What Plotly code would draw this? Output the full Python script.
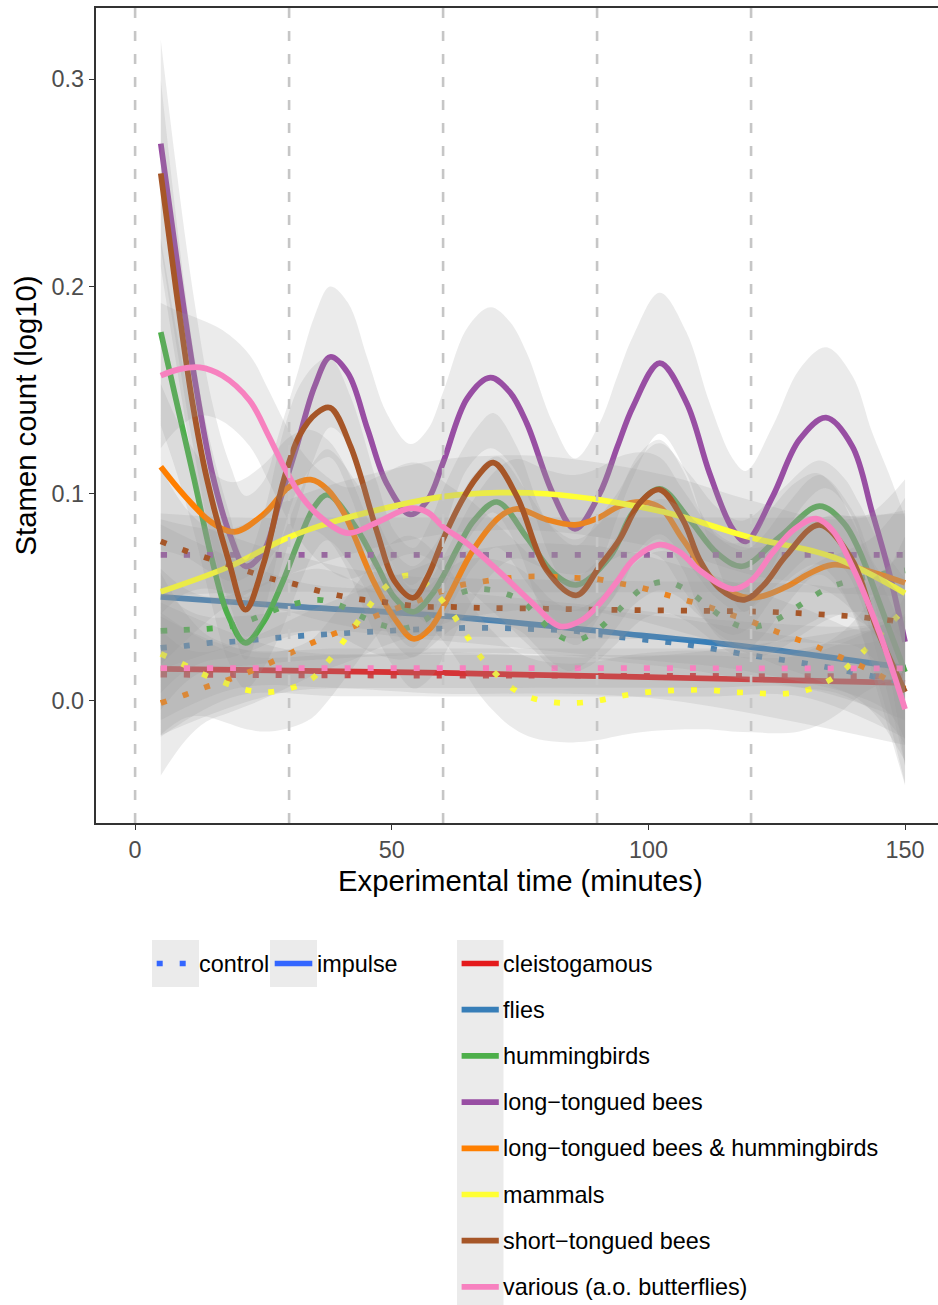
import plotly.graph_objects as go

# ---------------- data ----------------
groups = ["cleistogamous", "flies", "hummingbirds", "long\u2212tongued bees",
          "long\u2212tongued bees & hummingbirds", "mammals",
          "short\u2212tongued bees", "various (a.o. butterflies)"]
group_colors = ["#E41A1C", "#377EB8", "#4DAF4A", "#984EA3",
                "#FF7F00", "#FFFF33", "#A65628", "#F781BF"]
treatments = ["control", "impulse"]

# impulse (solid) smooths
cleisto_imp_x = [5, 30, 60, 100, 150]
cleisto_imp_y = [0.0155, 0.0146, 0.0135, 0.0115, 0.0087]

flies_imp_x = [5, 32, 57.5, 94, 120, 146, 150]
flies_imp_y = [0.0502, 0.0454, 0.0415, 0.0328, 0.026, 0.0174, 0.016]

humm_imp_x = [5, 8, 11.5, 15, 18, 21.5, 25, 28.5, 32, 35, 37.5, 43.3, 47.2, 50.5, 54.2, 58,
              63.3, 66, 70.5, 76.3, 81.4, 86, 92.5, 97, 102.2, 108, 113.3, 118.3, 125.5,
              133.3, 138, 141, 145.5, 150]
humm_imp_y = [0.178, 0.145, 0.107, 0.068, 0.042, 0.028, 0.038, 0.056, 0.078, 0.094, 0.0995,
              0.0826, 0.065, 0.050, 0.043, 0.052, 0.076, 0.087, 0.096, 0.079, 0.062, 0.056,
              0.0696, 0.091, 0.1024, 0.0875, 0.0715, 0.065, 0.079, 0.094, 0.086, 0.073,
              0.044, 0.014]

ltb_imp_x = [5, 8, 11.5, 15, 18.5, 21.5, 25, 28, 31.5, 35, 38, 41.5, 45.3, 49, 53.6, 57, 60,
             64.7, 69.2, 73, 76.3, 81.4, 85.7, 90.5, 94, 97, 102.2, 107.4, 111.9, 116.4,
             119, 124.2, 129.4, 134.6, 139.7, 143.6, 146.9, 150]
ltb_imp_y = [0.269, 0.215, 0.157, 0.110, 0.080, 0.065, 0.072, 0.095, 0.123, 0.152, 0.166,
             0.158, 0.131, 0.105, 0.090, 0.097, 0.115, 0.146, 0.156, 0.149, 0.134, 0.100,
             0.083, 0.100, 0.123, 0.142, 0.163, 0.144, 0.110, 0.083, 0.077, 0.0986, 0.126,
             0.1367, 0.123, 0.091, 0.062, 0.0285]

ltbh_imp_x = [5, 10, 15, 19.4, 25, 30.1, 34.2, 37.5, 40.6, 46.4, 50.5, 54.2, 57.5, 60.8,
              65.9, 71.1, 74.4, 80.2, 85.7, 90, 94.4, 99, 102.5, 106.7, 113.3, 119.7,
              126.8, 131, 135.8, 142.4, 150]
ltbh_imp_y = [0.113, 0.098, 0.086, 0.0816, 0.090, 0.1034, 0.1068, 0.102, 0.091, 0.058,
              0.040, 0.030, 0.035, 0.049, 0.073, 0.089, 0.0927, 0.0875, 0.085, 0.088,
              0.094, 0.096, 0.093, 0.078, 0.057, 0.0497, 0.055, 0.061, 0.0657, 0.063, 0.057]

mamm_imp_x = [5, 18.5, 29, 35.4, 45.3, 60, 71, 80, 90.5, 105, 119.7, 135.8, 150]
mamm_imp_y = [0.0527, 0.065, 0.078, 0.084, 0.091, 0.0986, 0.1005, 0.100, 0.097, 0.090,
              0.079, 0.0696, 0.052]

stb_imp_x = [5, 8, 11.1, 14, 18.3, 21.5, 25, 29, 32, 35.4, 38, 42, 47.2, 50.5, 54.2, 57,
             60, 63.3, 66.6, 69.8, 74.4, 80.2, 86, 90.5, 94.4, 98.3, 102.2, 106.7, 110, 114,
             118.7, 122.5, 126.8, 133.3, 139.7, 144.3, 150]
stb_imp_y = [0.2546, 0.198, 0.145, 0.107, 0.067, 0.044, 0.066, 0.107, 0.128, 0.139, 0.1415,
             0.1227, 0.081, 0.058, 0.0498, 0.060, 0.078, 0.095, 0.108, 0.115, 0.0986, 0.063,
             0.051, 0.065, 0.078, 0.0955, 0.102, 0.0875, 0.068, 0.054, 0.0488, 0.056, 0.070,
             0.085, 0.068, 0.036, 0.0043]

var_imp_x = [5, 8.5, 12.6, 17, 22.3, 26, 29, 32.3, 36, 41.4, 47, 53.6, 57, 60, 64.7, 71.1,
             77.5, 82.8, 87, 90.5, 94, 97, 102.2, 106, 110, 116.4, 120, 124.2, 128.5, 132.7,
             136, 139.7, 145, 150]
var_imp_y = [0.157, 0.160, 0.161, 0.157, 0.145, 0.128, 0.113, 0.099, 0.089, 0.081, 0.086,
             0.093, 0.091, 0.084, 0.076, 0.062, 0.047, 0.036, 0.039, 0.047, 0.058, 0.068,
             0.0754, 0.072, 0.063, 0.054, 0.058, 0.0715, 0.083, 0.088, 0.082, 0.065, 0.033,
             -0.0039]

# control (dotted) smooths
cleisto_ctl_x = [5, 20, 40, 75, 110, 130, 150]
cleisto_ctl_y = [0.0127, 0.0125, 0.0123, 0.0122, 0.0121, 0.0120, 0.0120]

flies_ctl_x = [5, 9.8, 14.5, 18.5, 27, 32.3, 45.3, 58, 67.2, 76.3, 85.3, 93.8, 106.7, 120,
               128.8, 137.6, 146.3, 150]
flies_ctl_y = [0.0256, 0.0266, 0.028, 0.0285, 0.0304, 0.0314, 0.0333, 0.0348, 0.0353,
               0.0348, 0.0338, 0.031, 0.0275, 0.022, 0.0188, 0.015, 0.0106, 0.009]

humm_ctl_x = [5, 9.5, 14, 18.5, 23, 27.3, 31.3, 35.8, 40, 43.9, 48, 52.3, 56.4, 59.8, 63.3,
              68, 75, 78.3, 81.4, 85.3, 89.2, 92.9, 96, 99.3, 103.5, 107.4, 111, 114.4,
              118.5, 122.8, 126.9, 130.6, 134.3, 138.5, 143, 147, 150]
humm_ctl_y = [0.0338, 0.0343, 0.0348, 0.036, 0.0396, 0.044, 0.047, 0.0488, 0.046, 0.041,
              0.0367, 0.035, 0.039, 0.046, 0.052, 0.054, 0.0488, 0.041, 0.0333, 0.029,
              0.0328, 0.0405, 0.0483, 0.055, 0.0575, 0.0536, 0.047, 0.0405, 0.0357, 0.037,
              0.042, 0.048, 0.0536, 0.0575, 0.060, 0.062, 0.063]

ltb_ctl_x = [5, 20, 40, 75, 110, 130, 150]
ltb_ctl_y = [0.0705, 0.0705, 0.0705, 0.0705, 0.0705, 0.0705, 0.0705]

ltbh_ctl_x = [5, 9.8, 13.9, 17.9, 22.2, 26.3, 30.2, 34, 38.3, 42.3, 46.4, 50.6, 54.7, 58.7,
              63, 67.4, 71.7, 76.2, 80.6, 85.1, 89.4, 93.8, 98.1, 102.4, 106.7, 111, 115,
              119.3, 123.4, 127.5, 131.5, 135.6, 139.7, 143.8, 147.5, 150]
ltbh_ctl_y = [-0.001, 0.003, 0.0068, 0.010, 0.014, 0.0184, 0.023, 0.0275, 0.032, 0.0357,
              0.0405, 0.0444, 0.048, 0.052, 0.0556, 0.0575, 0.059, 0.060, 0.060, 0.0594,
              0.059, 0.057, 0.055, 0.052, 0.049, 0.046, 0.0425, 0.039, 0.035, 0.031,
              0.0275, 0.023, 0.0188, 0.014, 0.009, 0.006]

mamm_ctl_x = [5, 9.6, 13.5, 17.5, 21.7, 26.2, 30.5, 34.4, 37.5, 40.2, 42.8, 45.5, 48.2,
              51.9, 54, 56, 59.3, 62, 64.3, 66.8, 69.7, 72.9, 76.6, 81, 85.3, 89.8, 93.8,
              98.5, 102.8, 107.2, 111.7, 116.2, 120.5, 124.9, 129.4, 133.5, 137.4, 140.7,
              143.8, 146.9, 150]
mamm_ctl_y = [0.0227, 0.0174, 0.0126, 0.0087, 0.0053, 0.0043, 0.0063, 0.0106, 0.0188,
              0.0275, 0.0362, 0.0454, 0.0536, 0.060, 0.0605, 0.058, 0.050, 0.0415, 0.0328,
              0.023, 0.0145, 0.0072, 0.002, -0.0005, -0.001, 0.0, 0.002, 0.0039, 0.0048,
              0.0053, 0.0053, 0.0043, 0.0039, 0.0034, 0.0043, 0.0077, 0.0135, 0.021,
              0.0285, 0.0367, 0.0444]

stb_ctl_x = [5, 9.8, 14, 18.3, 22.3, 26.6, 30.9, 35, 39.4, 43.9, 48.2, 52.5, 56.9, 61.4,
             65.9, 80, 92, 110, 123.2, 132, 140.7, 150]
stb_ctl_y = [0.077, 0.0725, 0.069, 0.0657, 0.0623, 0.059, 0.0565, 0.0536, 0.051, 0.049,
             0.0478, 0.0464, 0.0454, 0.0454, 0.045, 0.0445, 0.044, 0.0435, 0.043, 0.042,
             0.0406, 0.038]

var_ctl_x = [5, 20, 40, 75, 110, 130, 150]
var_ctl_y = [0.0158, 0.0158, 0.0158, 0.0158, 0.0158, 0.0157, 0.0157]

# standard-error half widths of the smooths (start / middle / end of the time range)
imp_se_start = [0.032, 0.035, 0.045, 0.050, 0.040, 0.035, 0.045, 0.035]
imp_se_mid = [0.010, 0.012, 0.022, 0.034, 0.024, 0.018, 0.024, 0.022]
imp_se_end = [0.030, 0.035, 0.045, 0.060, 0.050, 0.040, 0.045, 0.036]
ctl_se_start = [0.030, 0.030, 0.030, 0.020, 0.035, 0.039, 0.035, 0.025]
ctl_se_mid = [0.010, 0.012, 0.015, 0.018, 0.016, 0.019, 0.014, 0.0095]
ctl_se_end = [0.030, 0.030, 0.035, 0.020, 0.035, 0.035, 0.035, 0.025]

vline_x = [0, 30, 60, 90, 120]
x_ticks = [0, 50, 100, 150]
y_ticks = [0.0, 0.1, 0.2, 0.3]
y_tick_text = ["0.0", "0.1", "0.2", "0.3"]

ctl_series = [(cleisto_ctl_x, cleisto_ctl_y), (flies_ctl_x, flies_ctl_y),
              (humm_ctl_x, humm_ctl_y), (ltb_ctl_x, ltb_ctl_y), (ltbh_ctl_x, ltbh_ctl_y),
              (mamm_ctl_x, mamm_ctl_y), (stb_ctl_x, stb_ctl_y), (var_ctl_x, var_ctl_y)]
imp_series = [(cleisto_imp_x, cleisto_imp_y), (flies_imp_x, flies_imp_y),
              (humm_imp_x, humm_imp_y), (ltb_imp_x, ltb_imp_y), (ltbh_imp_x, ltbh_imp_y),
              (mamm_imp_x, mamm_imp_y), (stb_imp_x, stb_imp_y), (var_imp_x, var_imp_y)]

# ---------------- style ----------------
FONT = "Liberation Sans, Arial, sans-serif"
LW = 5.7
DOT = "6px,17px"
RIBBON = "rgba(153,153,153,0.2)"
W, H = 938, 1305
ML, MT, MB = 96, 8, 482
PW, PH = W - ML, H - MT - MB


def se_at(x, s0, sm, s1):
    a = max(0.0, 1 - (x - 5) / 11.0) ** 2
    b = max(0.0, 1 - (150 - x) / 11.0) ** 2
    return sm + (s0 - sm) * a + (s1 - sm) * b


fig = go.Figure()
for i, g in enumerate(groups):
    for t in treatments:
        if t == "control":
            xs, ys = ctl_series[i]
            s0, sm, s1 = ctl_se_start[i], ctl_se_mid[i], ctl_se_end[i]
            dash = DOT
        else:
            xs, ys = imp_series[i]
            s0, sm, s1 = imp_se_start[i], imp_se_mid[i], imp_se_end[i]
            dash = "solid"
        se = [se_at(x, s0, sm, s1) for x in xs]
        lo = [y - s for y, s in zip(ys, se)]
        hi = [y + s for y, s in zip(ys, se)]
        fig.add_trace(go.Scatter(x=xs, y=lo, mode="lines", showlegend=False,
                                 hoverinfo="skip", line=dict(width=0, shape="spline")))
        fig.add_trace(go.Scatter(x=xs, y=hi, mode="lines", showlegend=False,
                                 hoverinfo="skip", fill="tonexty", fillcolor=RIBBON,
                                 line=dict(width=0, shape="spline")))
        fig.add_trace(go.Scatter(x=xs, y=ys, mode="lines", name=f"{g} ({t})",
                                 showlegend=False,
                                 line=dict(color=group_colors[i], width=LW,
                                           shape="spline", dash=dash)))

for xv in vline_x:
    fig.add_shape(type="line", xref="x", yref="paper", x0=xv, x1=xv, y0=0, y1=1,
                  line=dict(color="#C6C6C6", width=2.6, dash="10px,13px"), layer="above")


# ---------------- manual legend (ggplot style) ----------------
def px_x(p):
    return (p - ML) / PW


def px_y(p):
    return (MT + PH - p) / PH


def key_box(x0, y0, x1, y1):
    fig.add_shape(type="rect", xref="paper", yref="paper", x0=px_x(x0), x1=px_x(x1),
                  y0=px_y(y1), y1=px_y(y0), fillcolor="#EBEBEB", line=dict(width=0),
                  layer="above")


def key_line(x0, x1, yc, color, dash):
    fig.add_shape(type="line", xref="paper", yref="paper", x0=px_x(x0), x1=px_x(x1),
                  y0=px_y(yc), y1=px_y(yc), line=dict(color=color, width=LW, dash=dash),
                  layer="above")


def key_text(x, yc, txt):
    fig.add_annotation(xref="paper", yref="paper", x=px_x(x), y=px_y(yc), text=txt,
                       showarrow=False, xanchor="left", yanchor="middle",
                       font=dict(family=FONT, size=23.4, color="black"))


# linetype legend
lt_key_left = [152, 270]
for k, t in enumerate(treatments):
    xl = lt_key_left[k]
    key_box(xl, 940, xl + 47, 987)
    key_line(xl + 4.7, xl + 42.3, 963.5, "#3366FF", DOT if t == "control" else "solid")
    key_text(xl + 45, 964, t)

# colour legend
key_box(457, 940, 503.5, 1310)
for i, g in enumerate(groups):
    yc = 963.5 + 46.2 * i
    key_line(461.6, 498.8, yc, group_colors[i], "solid")
    key_text(501, yc, g)

# axis titles
fig.add_annotation(xref="paper", yref="paper", x=px_x(520), y=px_y(880),
                   text="Experimental time (minutes)", showarrow=False,
                   xanchor="center", yanchor="middle",
                   font=dict(family=FONT, size=29.3, color="black"))
fig.add_annotation(xref="paper", yref="paper", x=px_x(25), y=px_y(415.5),
                   text="Stamen count (log10)", showarrow=False, textangle=-90,
                   xanchor="center", yanchor="middle",
                   font=dict(family=FONT, size=29.3, color="black"))

fig.update_layout(
    width=W, height=H,
    margin=dict(l=ML, r=0, t=MT, b=MB, pad=0),
    paper_bgcolor="white", plot_bgcolor="white",
    showlegend=False, hovermode=False,
    font=dict(family=FONT),
)
fig.update_xaxes(range=[-7.62, 156.42], tickvals=x_ticks, ticktext=[str(v) for v in x_ticks],
                 showgrid=False, zeroline=False, showline=True, mirror=True,
                 linecolor="#333333", linewidth=1.5, ticks="outside", ticklen=5.5,
                 tickwidth=1.4, tickcolor="#333333",
                 tickfont=dict(family=FONT, size=23.4, color="#4D4D4D"))
fig.update_yaxes(range=[-0.0589, 0.3344], tickvals=y_ticks, ticktext=y_tick_text,
                 showgrid=False, zeroline=False, showline=True, mirror=False,
                 linecolor="#333333", linewidth=1.5, ticks="outside", ticklen=5.5,
                 tickwidth=1.4, tickcolor="#333333",
                 tickfont=dict(family=FONT, size=23.4, color="#4D4D4D"))

fig.write_html("out.html")
